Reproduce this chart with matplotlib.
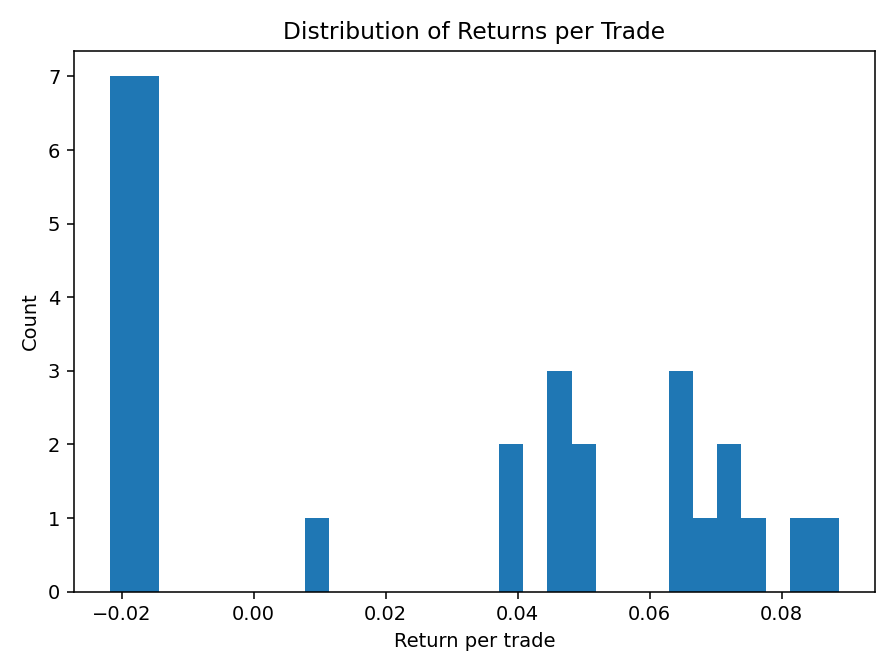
import numpy as np
import matplotlib
matplotlib.use("Agg")
import matplotlib.pyplot as plt

# Histogram: 30 bins between min and max return
ret_min = -0.0217
ret_max = 0.0886
bin_counts = [7, 7, 0, 0, 0, 0, 0, 0, 1, 0,
              0, 0, 0, 0, 0, 0, 2, 0, 3, 2,
              0, 0, 0, 3, 1, 2, 1, 0, 1, 1]

edges = np.linspace(ret_min, ret_max, len(bin_counts) + 1)
centers = (edges[:-1] + edges[1:]) / 2

fig, ax = plt.subplots(figsize=(6.4, 4.8), dpi=140)
ax.hist(centers, bins=edges, weights=bin_counts, color="#1f77b4")
ax.set_title("Distribution of Returns per Trade")
ax.set_xlabel("Return per trade")
ax.set_ylabel("Count")
fig.tight_layout()
fig.savefig("out.png", dpi=140)
